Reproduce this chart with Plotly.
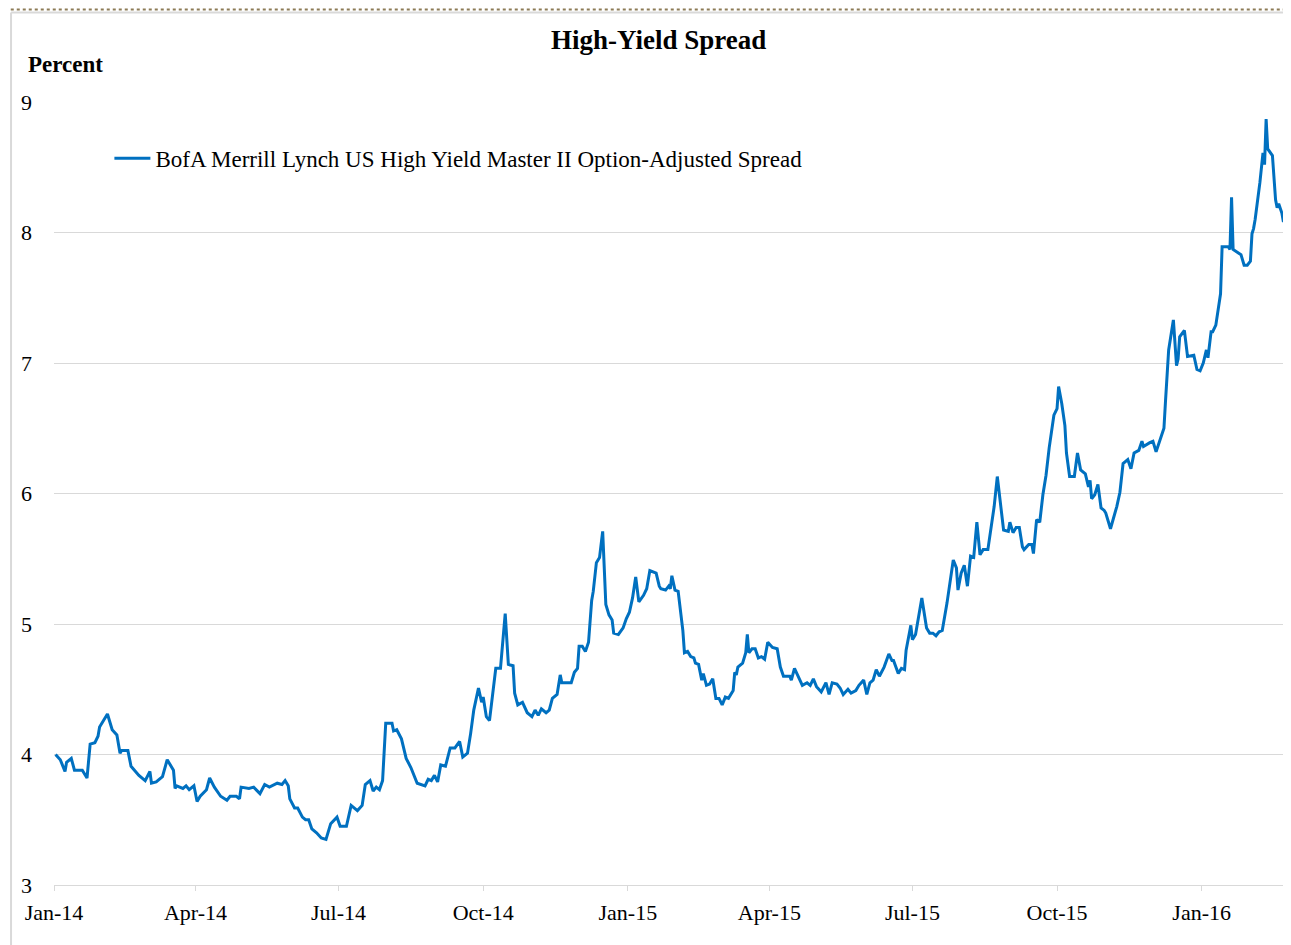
import plotly.graph_objects as go

title_text = "High-Yield Spread"
y_axis_label = "Percent"
series_name = "BofA Merrill Lynch US High Yield Master II Option-Adjusted Spread"

dates_2014 = [
    "2014-01-02", "2014-01-05", "2014-01-08", "2014-01-09", "2014-01-12", "2014-01-14", "2014-01-19", "2014-01-22",
    "2014-01-24", "2014-01-27", "2014-01-29", "2014-01-30", "2014-02-04", "2014-02-07", "2014-02-10", "2014-02-12",
    "2014-02-13", "2014-02-17", "2014-02-19", "2014-02-24", "2014-02-28", "2014-03-03", "2014-03-04", "2014-03-07",
    "2014-03-11", "2014-03-14", "2014-03-18", "2014-03-19", "2014-03-20", "2014-03-24", "2014-03-26", "2014-03-28",
    "2014-03-31", "2014-04-02", "2014-04-04", "2014-04-08", "2014-04-10", "2014-04-13", "2014-04-17", "2014-04-21",
    "2014-04-23", "2014-04-27", "2014-04-29", "2014-04-30", "2014-05-05", "2014-05-08", "2014-05-12", "2014-05-15",
    "2014-05-18", "2014-05-23", "2014-05-26", "2014-05-28", "2014-05-30", "2014-05-31", "2014-06-03", "2014-06-05",
    "2014-06-08", "2014-06-10", "2014-06-12", "2014-06-14", "2014-06-17", "2014-06-20", "2014-06-23", "2014-06-26",
    "2014-06-30", "2014-07-02", "2014-07-06", "2014-07-09", "2014-07-13", "2014-07-16", "2014-07-18", "2014-07-21",
    "2014-07-23", "2014-07-25", "2014-07-27", "2014-07-29", "2014-07-31", "2014-08-04", "2014-08-05", "2014-08-07",
    "2014-08-10", "2014-08-13", "2014-08-16", "2014-08-20", "2014-08-25", "2014-08-27", "2014-08-29", "2014-08-31",
    "2014-09-02", "2014-09-04", "2014-09-07", "2014-09-10", "2014-09-13", "2014-09-16", "2014-09-18", "2014-09-21",
    "2014-09-23", "2014-09-25", "2014-09-28", "2014-09-30", "2014-10-01", "2014-10-03", "2014-10-05", "2014-10-07",
    "2014-10-09", "2014-10-12", "2014-10-15", "2014-10-17", "2014-10-20", "2014-10-21", "2014-10-23", "2014-10-26",
    "2014-10-29", "2014-11-01", "2014-11-03", "2014-11-05", "2014-11-07", "2014-11-10", "2014-11-12", "2014-11-14",
    "2014-11-17", "2014-11-19", "2014-11-20", "2014-11-26", "2014-11-28", "2014-11-30", "2014-12-01", "2014-12-03",
    "2014-12-05", "2014-12-07", "2014-12-09", "2014-12-10", "2014-12-12", "2014-12-14", "2014-12-16", "2014-12-18",
    "2014-12-20", "2014-12-22", "2014-12-23", "2014-12-26", "2014-12-29", "2014-12-31",
]
values_2014 = [
    4.00, 3.96, 3.87, 3.94, 3.97, 3.88, 3.88, 3.82,
    4.08, 4.09, 4.14, 4.21, 4.31, 4.19, 4.15, 4.01,
    4.03, 4.03, 3.91, 3.84, 3.80, 3.87, 3.78, 3.79,
    3.83, 3.96, 3.88, 3.74, 3.76, 3.74, 3.76, 3.73,
    3.76, 3.64, 3.68, 3.73, 3.82, 3.75, 3.68, 3.65,
    3.68, 3.68, 3.66, 3.75, 3.74, 3.75, 3.70, 3.77,
    3.75, 3.78, 3.77, 3.80, 3.76, 3.66, 3.59, 3.59,
    3.52, 3.50, 3.50, 3.43, 3.40, 3.36, 3.35, 3.47,
    3.52, 3.45, 3.45, 3.61, 3.57, 3.61, 3.77, 3.80,
    3.72, 3.75, 3.73, 3.80, 4.24, 4.24, 4.18, 4.19,
    4.12, 3.97, 3.90, 3.78, 3.76, 3.81, 3.80, 3.84,
    3.79, 3.92, 3.91, 4.05, 4.05, 4.10, 3.98, 4.01,
    4.16, 4.34, 4.51, 4.40, 4.44, 4.29, 4.26, 4.48,
    4.66, 4.66, 5.08, 4.69, 4.68, 4.47, 4.38, 4.40,
    4.32, 4.29, 4.34, 4.30, 4.35, 4.32, 4.34, 4.43,
    4.46, 4.61, 4.55, 4.55, 4.63, 4.66, 4.83, 4.83,
    4.79, 4.86, 5.18, 5.25, 5.47, 5.51, 5.71, 5.15,
    5.07, 5.03, 4.93, 4.92, 4.97, 5.04,
]

dates_2015 = [
    "2015-01-02", "2015-01-04", "2015-01-06", "2015-01-08", "2015-01-11", "2015-01-13", "2015-01-15", "2015-01-19",
    "2015-01-21", "2015-01-22", "2015-01-25", "2015-01-27", "2015-01-28", "2015-01-29", "2015-01-31", "2015-02-02",
    "2015-02-04", "2015-02-05", "2015-02-06", "2015-02-08", "2015-02-10", "2015-02-12", "2015-02-13", "2015-02-15",
    "2015-02-17", "2015-02-18", "2015-02-20", "2015-02-22", "2015-02-24", "2015-02-26", "2015-02-28", "2015-03-02",
    "2015-03-04", "2015-03-06", "2015-03-09", "2015-03-10", "2015-03-11", "2015-03-12", "2015-03-15", "2015-03-17",
    "2015-03-18", "2015-03-19", "2015-03-21", "2015-03-23", "2015-03-25", "2015-03-27", "2015-03-29", "2015-03-31",
    "2015-04-03", "2015-04-06", "2015-04-08", "2015-04-10", "2015-04-14", "2015-04-15", "2015-04-17", "2015-04-19",
    "2015-04-22", "2015-04-25", "2015-04-27", "2015-04-29", "2015-05-01", "2015-05-04", "2015-05-07", "2015-05-09",
    "2015-05-11", "2015-05-14", "2015-05-16", "2015-05-18", "2015-05-21", "2015-05-23", "2015-05-26", "2015-05-28",
    "2015-05-31", "2015-06-02", "2015-06-04", "2015-06-06", "2015-06-08", "2015-06-10", "2015-06-13", "2015-06-16",
    "2015-06-18", "2015-06-19", "2015-06-22", "2015-06-24", "2015-06-26", "2015-06-27", "2015-06-30", "2015-07-01",
    "2015-07-03", "2015-07-05", "2015-07-07", "2015-07-10", "2015-07-12", "2015-07-14", "2015-07-16", "2015-07-18",
    "2015-07-20", "2015-07-23", "2015-07-25", "2015-07-27", "2015-07-29", "2015-07-30", "2015-08-01", "2015-08-03",
    "2015-08-05", "2015-08-07", "2015-08-09", "2015-08-11", "2015-08-13", "2015-08-15", "2015-08-18", "2015-08-20",
    "2015-08-22", "2015-08-24", "2015-08-26", "2015-08-28", "2015-08-31", "2015-09-01", "2015-09-03", "2015-09-05",
    "2015-09-07", "2015-09-09", "2015-09-10", "2015-09-13", "2015-09-15", "2015-09-16", "2015-09-18", "2015-09-20",
    "2015-09-22", "2015-09-24", "2015-09-26", "2015-09-29", "2015-10-01", "2015-10-02", "2015-10-04", "2015-10-06",
    "2015-10-07", "2015-10-09", "2015-10-12", "2015-10-14", "2015-10-16", "2015-10-19", "2015-10-21", "2015-10-22",
    "2015-10-23", "2015-10-25", "2015-10-27", "2015-10-29", "2015-10-31", "2015-11-01", "2015-11-04", "2015-11-06",
    "2015-11-08", "2015-11-10", "2015-11-12", "2015-11-15", "2015-11-17", "2015-11-19", "2015-11-22", "2015-11-24",
    "2015-11-25", "2015-11-29", "2015-12-01", "2015-12-03", "2015-12-06", "2015-12-08", "2015-12-09", "2015-12-11",
    "2015-12-14", "2015-12-16", "2015-12-17", "2015-12-18", "2015-12-21", "2015-12-23", "2015-12-27", "2015-12-29",
    "2015-12-31",
]
values_2015 = [
    5.09, 5.20, 5.36, 5.17, 5.22, 5.27, 5.41, 5.39,
    5.29, 5.27, 5.26, 5.29, 5.27, 5.37, 5.26, 5.25,
    5.07, 4.95, 4.78, 4.79, 4.75, 4.74, 4.70, 4.69,
    4.57, 4.62, 4.53, 4.54, 4.58, 4.43, 4.43, 4.38,
    4.44, 4.43, 4.49, 4.63, 4.61, 4.67, 4.70, 4.78,
    4.92, 4.78, 4.81, 4.81, 4.74, 4.75, 4.73, 4.86,
    4.82, 4.81, 4.67, 4.60, 4.60, 4.57, 4.66, 4.61,
    4.53, 4.55, 4.53, 4.58, 4.52, 4.48, 4.55, 4.46,
    4.55, 4.54, 4.51, 4.46, 4.50, 4.47, 4.49, 4.53,
    4.57, 4.46, 4.55, 4.57, 4.65, 4.60, 4.67, 4.77,
    4.72, 4.72, 4.62, 4.66, 4.65, 4.80, 4.99, 4.88,
    4.92, 5.06, 5.20, 4.97, 4.93, 4.93, 4.91, 4.94,
    4.95, 5.16, 5.34, 5.49, 5.43, 5.26, 5.39, 5.45,
    5.29, 5.52, 5.51, 5.78, 5.53, 5.57, 5.57, 5.72,
    5.90, 6.13, 5.90, 5.72, 5.71, 5.78, 5.70, 5.74,
    5.74, 5.59, 5.57, 5.61, 5.61, 5.54, 5.80, 5.78,
    5.99, 6.14, 6.35, 6.60, 6.65, 6.82, 6.69, 6.52,
    6.31, 6.13, 6.13, 6.31, 6.18, 6.15, 6.05, 6.10,
    5.96, 5.99, 6.07, 5.89, 5.87, 5.85, 5.73, 5.81,
    5.90, 6.01, 6.23, 6.26, 6.19, 6.31, 6.33, 6.40,
    6.36, 6.39, 6.40, 6.32, 6.44, 6.50, 6.71, 7.10,
    7.33, 6.98, 7.03, 7.20, 7.25, 7.05, 7.06, 6.95,
    6.94,
]

dates_2016 = [
    "2016-01-02", "2016-01-04", "2016-01-05", "2016-01-07", "2016-01-08", "2016-01-10", "2016-01-11", "2016-01-13",
    "2016-01-14", "2016-01-17", "2016-01-18", "2016-01-19", "2016-01-20", "2016-01-21", "2016-01-24", "2016-01-26",
    "2016-01-28", "2016-01-30", "2016-02-01", "2016-02-02", "2016-02-03", "2016-02-04", "2016-02-07", "2016-02-09",
    "2016-02-10", "2016-02-11", "2016-02-12", "2016-02-15", "2016-02-17", "2016-02-18", "2016-02-19", "2016-02-21",
    "2016-02-22",
]
values_2016 = [
    7.00, 7.10, 7.04, 7.24, 7.24, 7.29, 7.38, 7.53,
    7.89, 7.89, 7.89, 7.87, 8.27, 7.87, 7.85, 7.83,
    7.75, 7.75, 7.78, 7.99, 8.03, 8.10, 8.38, 8.61,
    8.52, 8.87, 8.64, 8.59, 8.25, 8.19, 8.22, 8.15,
    8.08,
]

dates = dates_2014 + dates_2015 + dates_2016
values = values_2014 + values_2015 + values_2016

FONT = "Liberation Serif, Times New Roman, serif"
LINE_BLUE = "#0070C0"
GRID = "#D9D9D9"

fig = go.Figure()
fig.add_trace(go.Scatter(
    x=dates, y=values, mode="lines", name=series_name,
    line=dict(color=LINE_BLUE, width=3),
    showlegend=True,
))

fig.update_layout(
    width=1283, height=937,
    margin=dict(l=46, r=6, t=94, b=60, pad=0),
    paper_bgcolor="white", plot_bgcolor="white",
    font=dict(family=FONT, size=22, color="black"),
    showlegend=True,
    legend=dict(
        x=0.045, y=0.928, xanchor="left", yanchor="middle",
        bgcolor="rgba(0,0,0,0)", borderwidth=0,
        itemwidth=36,
        font=dict(family=FONT, size=23, color="black"),
    ),
    xaxis=dict(
        type="date",
        range=["2014-01-01", "2016-02-23"],
        tick0="2014-01-01", dtick="M3", tickformat="%b-%y",
        showgrid=False, zeroline=False,
        showline=True, linecolor=GRID, linewidth=1,
        ticks="outside", ticklen=5, tickcolor=GRID,
        ticklabelstandoff=3,
        tickfont=dict(family=FONT, size=22, color="black"),
    ),
    yaxis=dict(
        range=[3, 9], dtick=1, tick0=3,
        showgrid=True, gridcolor=GRID, gridwidth=1,
        zeroline=False, showline=False, ticks="",
        ticklabelstandoff=21,
        tickfont=dict(family=FONT, size=22, color="black"),
    ),
    annotations=[
        dict(text="<b>" + title_text + "</b>", xref="paper", yref="paper",
             x=0.4907, y=1.0792, xanchor="center", yanchor="middle",
             showarrow=False, font=dict(family=FONT, size=27, color="black")),
        dict(text="<b>" + y_axis_label + "</b>", xref="paper", yref="paper",
             x=-0.0227, y=1.0485, xanchor="left", yanchor="middle",
             showarrow=False, font=dict(family=FONT, size=23, color="black")),
    ],
    shapes=[
        dict(type="line", xref="paper", yref="paper", x0=-0.04, x1=1.005, y0=1.1182, y1=1.1182,
             line=dict(color="#8C7A55", width=2, dash="dot")),
        dict(type="line", xref="paper", yref="paper", x0=-0.0349, x1=1.005, y0=1.1143, y1=1.1143,
             line=dict(color=GRID, width=2)),
        dict(type="line", xref="paper", yref="paper", x0=-0.0349, x1=-0.0349, y0=1.1143, y1=-0.08,
             line=dict(color=GRID, width=2)),
    ],
)

fig.write_html("out.html")
